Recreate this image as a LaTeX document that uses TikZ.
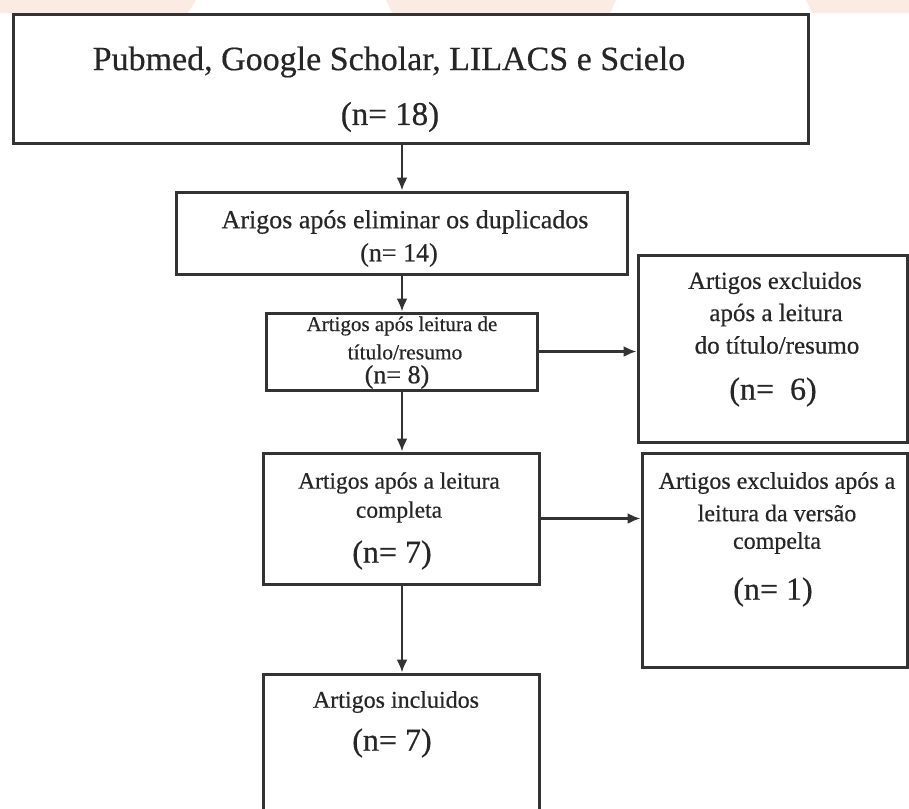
\documentclass[tikz,border=0pt]{standalone}
\usepackage{fontspec}
\setmainfont{Liberation Serif}[FakeBold=0.5]
\usetikzlibrary{arrows.meta}
\definecolor{linha}{HTML}{333333}
\definecolor{tinta}{HTML}{262626}
\definecolor{marca}{HTML}{FCEBE3}
\newcommand{\tam}[1]{\fontsize{#1}{#1}\selectfont}

\begin{document}
\begin{tikzpicture}[x=1pt, y=-1pt,  % 1 unidade = 1 pixel, y para baixo
    caixa/.style={draw=linha, line width=3pt, inner sep=0pt},
    seta/.style={draw=linha, line width=2.2pt, -{Latex[length=13pt,width=11pt]}},
    texto/.style={text=tinta, inner sep=0pt}]
  \clip (0,0) rectangle (909,808);

  % Faixas claras no topo
  \fill[marca] (0,0) -- (196,0) -- (188,13) -- (0,13) -- cycle;
  \fill[marca] (386,0) -- (616,0) -- (610,13) -- (392,13) -- cycle;
  \fill[marca] (806,0) -- (909,0) -- (909,13) -- (812,13) -- cycle;

  % Caixas
  \node[caixa, minimum width=795pt, minimum height=128pt] (bases) at (410.5,79) {};
  \node[caixa, minimum width=451pt, minimum height=82pt] (duplic) at (401.5,233) {};
  \node[caixa, minimum width=271pt, minimum height=77pt] (titulo) at (401.5,351.5) {};
  \node[caixa, minimum width=269pt, minimum height=187pt] (excl1) at (772.5,348.5) {};
  \node[caixa, minimum width=276pt, minimum height=131pt] (leitura) at (401,518.5) {};
  \node[caixa, minimum width=265pt, minimum height=214pt] (excl2) at (774.5,560) {};
  \node[caixa, minimum width=276pt, minimum height=176pt] (incl) at (401,762) {};

  % Setas
  \coordinate (eixo) at (402,0);
  \draw[seta] (bases.south -| eixo) -- (duplic.north -| eixo);
  \draw[seta] (duplic.south -| eixo) -- (titulo.north -| eixo);
  \draw[seta] (titulo.south -| eixo) -- (leitura.north -| eixo);
  \draw[seta] (leitura.south -| eixo) -- (incl.north -| eixo);
  \draw[seta] (titulo.east) -- (titulo.east -| excl1.west);
  \draw[seta] (leitura.east) -- (leitura.east -| excl2.west);

  % Textos
  \node[texto, font=\tam{34}] (bases-a) at (389,62) {Pubmed, Google Scholar, LILACS e Scielo};
  \node[texto, font=\tam{33}] (bases-b) at (390,117) {(n= 18)};

  \node[texto, font=\tam{26}] (duplic-a) at (405,222) {Arigos após eliminar os duplicados};
  \node[texto, font=\tam{26}] (duplic-b) at (399,255) {(n= 14)};

  \node[texto, font=\tam{21}] (titulo-a) at (402,326) {Artigos após leitura de};
  \node[texto, font=\tam{21.5}] (titulo-b) at (405,352) {título/resumo};
  \node[texto, font=\tam{26}] (titulo-c) at (397,377) {(n= 8)};

  \node[texto, font=\tam{24.5}] (excl1-a) at (775,283) {Artigos excluidos};
  \node[texto, font=\tam{25}] (excl1-b) at (776,315) {após a leitura};
  \node[texto, font=\tam{25}] (excl1-c) at (777,345) {do título/resumo};
  \node[texto, font=\tam{32}] (excl1-d) at (773,392) {(n=\ \ 6)};

  \node[texto, font=\tam{23.5}] (leitura-a) at (399,483) {Artigos após a leitura};
  \node[texto, font=\tam{23.5}] (leitura-b) at (399,512) {completa};
  \node[texto, font=\tam{32}] (leitura-c) at (392,555) {(n= 7)};

  \node[texto, font=\tam{24}] (excl2-a) at (777,483) {Artigos excluidos após a};
  \node[texto, font=\tam{24}] (excl2-b) at (777,513) {leitura da versão};
  \node[texto, font=\tam{24}] (excl2-c) at (777,543) {compelta};
  \node[texto, font=\tam{32}] (excl2-d) at (773,592) {(n= 1)};

  \node[texto, font=\tam{24}] (incl-a) at (396,702) {Artigos incluidos};
  \node[texto, font=\tam{32}] (incl-b) at (392,743) {(n= 7)};
\end{tikzpicture}
\end{document}
